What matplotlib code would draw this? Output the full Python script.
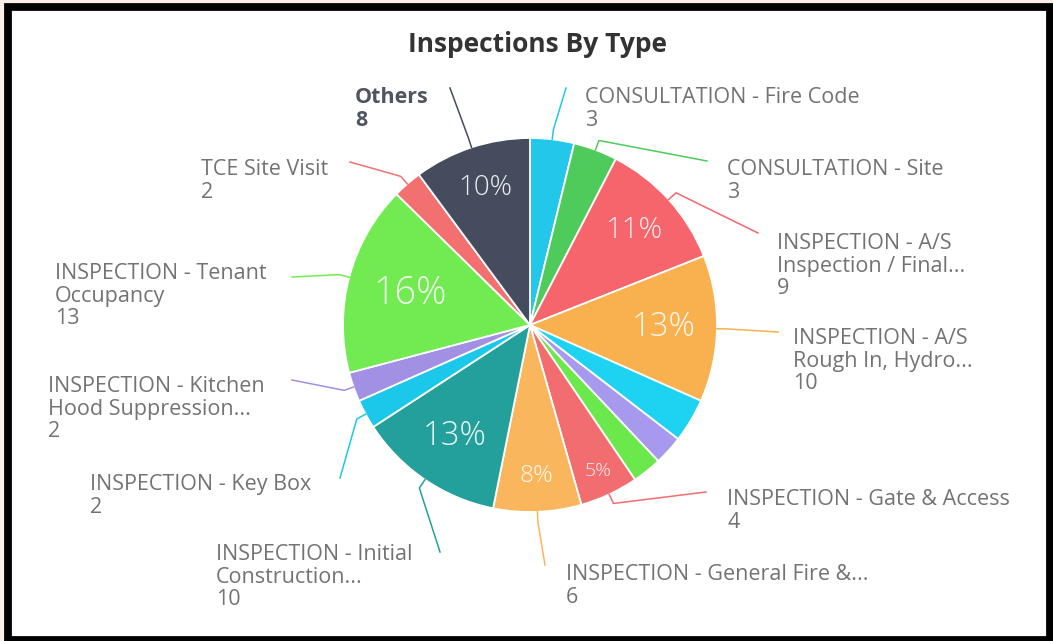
import numpy as np
import matplotlib.pyplot as plt
from matplotlib.patches import Rectangle

# inspection counts by type, clockwise from 12 o'clock
names = ['CONSULTATION - Fire Code', 'CONSULTATION - Site',
         'INSPECTION - A/S\nInspection / Final...',
         'INSPECTION - A/S\nRough In, Hydro...',
         '', '', '',
         'INSPECTION - Gate & Access', 'INSPECTION - General Fire &...',
         'INSPECTION - Initial\nConstruction...', 'INSPECTION - Key Box',
         'INSPECTION - Kitchen\nHood Suppression...',
         'INSPECTION - Tenant\nOccupancy', 'TCE Site Visit', 'Others']
counts = [3, 3, 9, 10, 3, 2, 2, 4, 6, 10, 2, 2, 13, 2, 8]
colors = ['#22C7EA', '#4FCB5C', '#F6656B', '#F8B14E', '#1DD3F1', '#A699EE',
          '#6BE94C', '#F26D70', '#F9B65C', '#23A09C', '#1CC8E9', '#A190E4',
          '#72EB53', '#F27070', '#454C5E']

# label placement in pixels (text x, first line center y, connector end x, y)
label_pos = {
    'CONSULTATION - Fire Code': (585, 96, 566, 88),
    'CONSULTATION - Site': (727, 168, 707, 161),
    'INSPECTION - A/S\nInspection / Final...': (777, 242, 758, 233),
    'INSPECTION - A/S\nRough In, Hydro...': (793, 337, 778, 332),
    'INSPECTION - Gate & Access': (727, 498, 706, 492),
    'INSPECTION - General Fire &...': (566, 573, 545, 565),
    'INSPECTION - Initial\nConstruction...': (216, 553, 440, 552),
    'INSPECTION - Key Box': (90, 483, 340, 478),
    'INSPECTION - Kitchen\nHood Suppression...': (48, 385, 292, 380),
    'INSPECTION - Tenant\nOccupancy': (55, 272, 292, 277),
    'TCE Site Visit': (201, 168, 350, 162),
    'Others': (355, 96, 450, 88),
}

W, H = 1053, 641
cx, cy, R = 530, 325, 187

plt.rcParams['font.family'] = ['Open Sans', 'DejaVu Sans']

fig = plt.figure(figsize=(W / 100, H / 100), dpi=100, facecolor='#fcefea')
ax = fig.add_axes([0, 0, 1, 1])

def Y(y):
    # pixel rows run downward, data y runs upward
    return H - y

# white card with black frame
ax.add_patch(Rectangle((8, Y(640)), 1042, 633.5, facecolor='white',
                       edgecolor='black', linewidth=5.6, zorder=0))

wedges, _ = ax.pie(counts, colors=colors, startangle=90, counterclock=False,
                   center=(cx, Y(cy)), radius=R,
                   wedgeprops=dict(edgecolor='white', linewidth=1.3))

total = sum(counts)
for w, name, n in zip(wedges, names, counts):
    mid = np.deg2rad((w.theta1 + w.theta2) / 2)
    ux, uy = np.cos(mid), np.sin(mid)
    pct = round(100 * n / total)
    if pct >= 5:
        rr = R * (0.95 - 0.018 * pct)
        ax.text(cx + rr * ux, Y(cy) + rr * uy, f'{pct}%', color='white',
                alpha=0.9, fontsize=8 + 1.2 * pct, fontweight='light',
                ha='center', va='center', zorder=5)
    if not name:
        continue
    tx, ty, ex, ey = label_pos[name]
    px = [cx + R * ux, cx + (R + 10) * ux, ex]
    py = [Y(cy) + R * uy, Y(cy) + (R + 10) * uy, Y(ey)]
    ax.plot(px, py, color=w.get_facecolor(), linewidth=1.1, zorder=1)
    bold = name == 'Others'
    ax.text(tx, Y(ty - 9), f'{name}\n{n}', ha='left', va='top',
            fontsize=15.5, linespacing=1.1,
            color='#4f5561' if bold else '#737373',
            fontweight='bold' if bold else 'normal', zorder=5)

ax.text(537, Y(45), 'Inspections By Type', ha='center', va='center',
        fontsize=19, fontweight='bold', color='#333333')

ax.set_xlim(0, W)
ax.set_ylim(0, H)
ax.set_aspect('equal')
ax.axis('off')
fig.savefig('out.png', dpi=100, facecolor=fig.get_facecolor())
